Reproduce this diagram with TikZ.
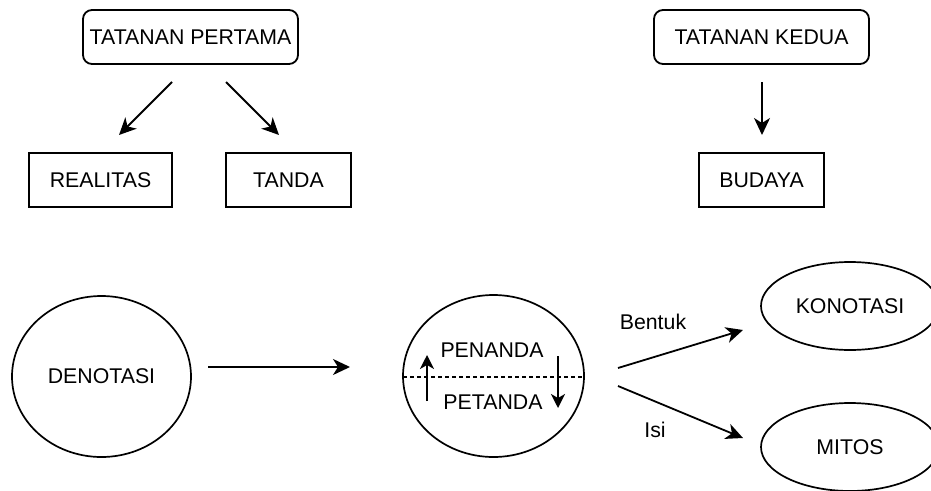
\documentclass[tikz,border=0pt]{standalone}
\usepackage{fontspec}
\setmainfont{Liberation Sans}
\usetikzlibrary{shapes.geometric,arrows.meta}
\begin{document}
\begin{tikzpicture}[x=1pt,y=-1pt,
  every node/.style={font=\fontsize{21.3}{25}\selectfont, inner sep=0pt, outer sep=0pt},
  roundbox/.style={draw, line width=1.8pt, rounded corners=9pt, minimum width=215pt, minimum height=54pt},
  plainbox/.style={draw, line width=1.8pt, minimum height=54pt},
  oval/.style={draw, ellipse, line width=1.7pt},
  arr/.style={line width=1.8pt, -{Stealth[length=17pt,width=16pt,inset=5pt]}},
  smallarr/.style={line width=1.8pt, -{Stealth[length=14pt,width=14pt,inset=4pt]}},
  lbl/.style={}
]
\useasboundingbox (0,0) rectangle (931,490);
% top boxes
\node[roundbox] (tp) at (190.5,37) {TATANAN PERTAMA};
\node[roundbox] (tk) at (761.5,37) {TATANAN KEDUA};
\node[plainbox, minimum width=143pt] (realitas) at (100.5,180) {REALITAS};
\node[plainbox, minimum width=125pt] (tanda) at (288.5,180) {TANDA};
\node[plainbox, minimum width=125pt] (budaya) at (761.5,180) {BUDAYA};
% arrow end coordinates
\coordinate (a1s) at (172,82); \coordinate (a1e) at (119,135);
\coordinate (a2s) at (226,82); \coordinate (a2e) at (279,135);
\coordinate (a3s) at (762,82); \coordinate (a3e) at (762,135);
\draw[arr] (a1s) -- (a1e);
\draw[arr] (a2s) -- (a2e);
\draw[arr] (a3s) -- (a3e);
% bottom
\node[oval, minimum width=179pt, minimum height=161pt] (deno) at (101.5,376.5) {DENOTASI};
\node[oval, minimum width=181pt, minimum height=162pt] (mid) at (493.5,376) {};
\node[oval, minimum width=178pt, minimum height=88pt] (kono) at (850,306) {KONOTASI};
\node[oval, minimum width=178pt, minimum height=88pt] (mitos) at (850,447) {MITOS};
\node (penanda) at (492,350) {PENANDA};
\node (petanda) at (493,402) {PETANDA};
\node[lbl] (bentuk) at (653,322) {Bentuk};
\node[lbl] (isi) at (655,430) {Isi};
\draw[line width=1.4pt, dash pattern=on 4pt off 3pt] (mid.west |- 0,377) -- (mid.east |- 0,377);
\coordinate (b1s) at (208,367); \coordinate (b1e) at (350,367);
\draw[arr] (b1s) -- (b1e);
\coordinate (ups) at (427,401); \coordinate (upe) at (427,355);
\coordinate (dns) at (558,356); \coordinate (dne) at (558,408);
\draw[smallarr] (ups) -- (upe);
\draw[smallarr] (dns) -- (dne);
\coordinate (bts) at (618,368); \coordinate (bte) at (743,330);
\coordinate (iss) at (618,386); \coordinate (ise) at (743,438);
\draw[arr] (bts) -- (bte);
\draw[arr] (iss) -- (ise);
\end{tikzpicture}
\end{document}
